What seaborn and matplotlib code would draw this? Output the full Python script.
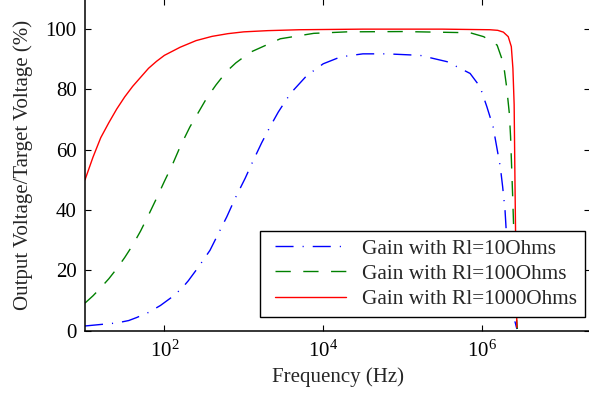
import matplotlib
matplotlib.use("Agg")
import matplotlib.pyplot as plt
from matplotlib.ticker import FixedLocator, FixedFormatter, NullLocator
from matplotlib.legend_handler import HandlerLine2D
from matplotlib.lines import Line2D
import numpy as np
import pandas as pd
import seaborn as sns

# ---- data ----
freq_10 = [10, 15.8, 25.1, 35.5, 44.7, 63.1, 89.1, 126, 166, 200, 269, 375, 479, 610,
           776, 1040, 1320, 1680, 2140, 2720, 3470, 4170, 6170, 10000, 16600, 31600,
           63100, 166000, 363000, 708000, 944000, 1.15e6, 1.38e6, 1.53e6, 1.70e6,
           1.82e6, 1.95e6, 2.02e6, 2.14e6, 2.29e6, 2.45e6, 2.60e6, 2.75e6]
gain_10 = [1.5, 2.0, 2.5, 3.3, 4.3, 6.0, 8.3, 11.2, 14.0, 16.5, 21.1, 26.6, 32.2, 37.7,
           43.8, 50.5, 56.5, 62.3, 67.6, 72.5, 76.8, 79.6, 84.5, 88.5, 90.8, 91.8,
           91.8, 91.3, 89.2, 85.3, 80.9, 74.3, 67.6, 61.0, 54.3,
           47.7, 39.9, 33.0, 25.0, 17.0, 9.0, 3.0, 0.5]

freq_100 = [10, 12.6, 15.8, 20.0, 25.1, 31.6, 39.8, 50.1, 63.1, 79.4, 100, 126, 158, 209, 263,
            339, 447, 610, 794, 1200, 2880, 7590, 20000, 100000, 708000, 1.05e6,
            1.55e6, 1.86e6, 2.04e6, 2.21e6, 2.29e6, 2.37e6, 2.45e6, 2.51e6, 2.63e6,
            2.72e6, 2.79e6]
gain_100 = [9.1, 11.5, 14.2, 17.2, 20.5, 24.2, 28.3, 33.0, 38.3, 43.8, 49.5, 55.0, 61.0, 67.5, 72.0,
            77.0, 81.5, 86.0, 88.8, 92.3, 96.8, 98.6, 99.1, 99.2, 98.8, 97.5,
            94.7, 88.7, 80.9, 72.0, 64.3, 53.2, 42.2, 33.3, 15.0,
            4.0, 0.5]

freq_1000 = [10, 12.6, 15.8, 20.0, 25.1, 31.6, 39.8, 50.1, 63.1, 79.4, 100, 158, 251, 398,
             631, 1000, 2000, 5010, 31600, 316000, 1.26e6, 1.58e6, 1.86e6, 2.14e6,
             2.34e6, 2.45e6, 2.54e6, 2.60e6, 2.66e6, 2.75e6]
gain_1000 = [50.0, 57.5, 64.0, 69.0, 73.5, 77.5, 81.0, 84.0, 87.0, 89.3, 91.3, 94.0, 96.2, 97.6,
             98.5, 99.1, 99.5, 99.8, 100.0, 100.0, 99.8, 99.6, 99.0, 97.5,
             94.2, 87.0, 75.0, 50.0, 28.0, 1.0]

series_labels = ["Gain with Rl=10Ohms", "Gain with Rl=100Ohms", "Gain with Rl=1000Ohms"]
series_colors = ["#0000ff", "#008000", "#ff0000"]

x_ticks = [1e2, 1e4, 1e6]
x_tick_labels = [r"$\mathregular{10^{2}}$", r"$\mathregular{10^{4}}$", r"$\mathregular{10^{6}}$"]
y_ticks = [0, 20, 40, 60, 80, 100]
y_tick_labels = ["0", "20", "40", "60", "80", "100"]

df = pd.concat([
    pd.DataFrame({"freq": freq_10, "gain": gain_10, "series": series_labels[0]}),
    pd.DataFrame({"freq": freq_100, "gain": gain_100, "series": series_labels[1]}),
    pd.DataFrame({"freq": freq_1000, "gain": gain_1000, "series": series_labels[2]}),
], ignore_index=True)

# ---- style ----
sns.set_style("ticks")
plt.rcParams["font.family"] = ["Liberation Serif", "DejaVu Serif"]
plt.rcParams["mathtext.fontset"] = "custom"
plt.rcParams["mathtext.rm"] = "Liberation Serif"
plt.rcParams["mathtext.it"] = "Liberation Serif:italic"
plt.rcParams["font.size"] = 15

fig = plt.figure(figsize=(5.89, 4.05), dpi=100)
W, H = 589.0, 405.0
left_px, right_px, bottom_px, top_px = 85.0, 590.0, 330.5, -1.0
ax = fig.add_axes([left_px / W, (H - bottom_px) / H,
                   (right_px - left_px) / W, (bottom_px - top_px) / H])

palette = dict(zip(series_labels, series_colors))
dashes = {series_labels[0]: (13, 6.5, 0.8, 6.5),
          series_labels[1]: (11, 9),
          series_labels[2]: ""}

sns.lineplot(data=df, x="freq", y="gain", hue="series", style="series",
             hue_order=series_labels, style_order=series_labels,
             palette=palette, dashes=dashes, estimator=None, sort=False,
             linewidth=1.0, ax=ax)

ax.set_xscale("log")
ax.set_xlim(10, 10 ** (1 + (right_px - left_px) / 79.4))
ax.set_ylim(0, 110)

ax.xaxis.set_major_locator(FixedLocator(x_ticks))
ax.xaxis.set_major_formatter(FixedFormatter(x_tick_labels))
ax.xaxis.set_minor_locator(NullLocator())
ax.yaxis.set_major_locator(FixedLocator(y_ticks))
ax.yaxis.set_major_formatter(FixedFormatter(y_tick_labels))
ax.yaxis.set_minor_locator(NullLocator())

ax.tick_params(axis="both", which="major", direction="in", length=4.5, width=0.8,
               top=True, right=True, labelsize=15, colors="black")
ax.tick_params(axis="y", pad=6)
ax.tick_params(axis="x", pad=7)
for s in ax.spines.values():
    s.set_linewidth(1.1)
    s.set_color("black")

ax.set_xlabel("Frequency (Hz)", fontsize=15, labelpad=4)
ax.set_ylabel("Output Voltage/Target Voltage (%)", fontsize=15, labelpad=9)

sns.move_legend(ax, "lower right", bbox_to_anchor=(0.99, 0.041), borderaxespad=0,
                title=None, frameon=True, fancybox=False, framealpha=1,
                edgecolor="black", fontsize=15.3, handlelength=4.05,
                handletextpad=0.4, labelspacing=0.25, borderpad=0.37,
                numpoints=2, handler_map={Line2D: HandlerLine2D(numpoints=2, marker_pad=0.35)})
leg = ax.get_legend()
leg.get_frame().set_linewidth(1.0)
for h in leg.get_lines():
    h.set_linewidth(1.0)

fig.savefig("out.png", dpi=100)
